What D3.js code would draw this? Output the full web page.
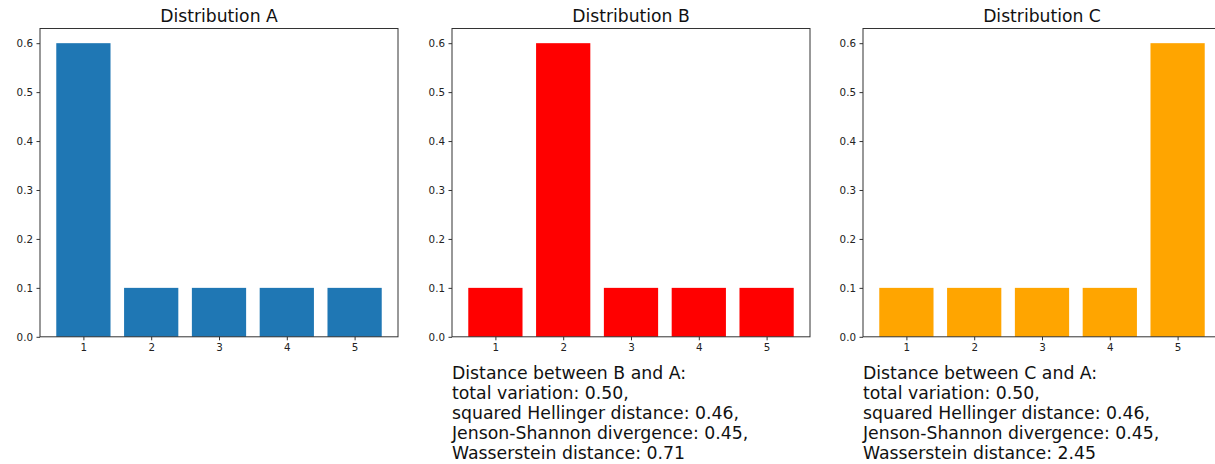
<!DOCTYPE html>
<html>
<head>
<meta charset="utf-8">
<script src="https://cdn.jsdelivr.net/npm/d3@7"></script>
<style>
  body { margin: 0; background: #fff; }
  svg { font-family: "DejaVu Sans", sans-serif; }
</style>
</head>
<body>
<svg id="chart" width="1215" height="464"></svg>
<script>
const categories = [1, 2, 3, 4, 5];
const distA = [0.6, 0.1, 0.1, 0.1, 0.1];
const distB = [0.1, 0.6, 0.1, 0.1, 0.1];
const distC = [0.1, 0.1, 0.1, 0.1, 0.6];
const yTicks = [0.0, 0.1, 0.2, 0.3, 0.4, 0.5, 0.6];
const panelTitles = ['Distribution A', 'Distribution B', 'Distribution C'];
const panelColors = ['#1f77b4', '#ff0000', '#ffa500'];
const notesB = ['Distance between B and A:', 'total variation: 0.50,', 'squared Hellinger distance: 0.46,', 'Jenson-Shannon divergence: 0.45,', 'Wasserstein distance: 0.71'];
const notesC = ['Distance between C and A:', 'total variation: 0.50,', 'squared Hellinger distance: 0.46,', 'Jenson-Shannon divergence: 0.45,', 'Wasserstein distance: 2.45'];

const panels = [
    { left: 40, values: distA, title: panelTitles[0], color: panelColors[0], notes: null },
    { left: 452, values: distB, title: panelTitles[1], color: panelColors[1], notes: notesB },
    { left: 863, values: distC, title: panelTitles[2], color: panelColors[2], notes: notesC },
];

const panelWidth = 358;
const panelTop = 28.5;
const panelHeight = 308.3;
const svg = d3.select('#chart');

panels.forEach(p => {
    const g = svg.append('g').attr('transform', `translate(${p.left}, ${panelTop})`);

    // bars are 0.8 wide, centred on 1..5, with matplotlib's 5% margin
    const x = d3.scaleLinear().domain([0.36, 5.64]).range([0, panelWidth]);
    const y = d3.scaleLinear().domain([0, 0.63]).range([panelHeight, 0]);

    g.selectAll('rect')
        .data(categories)
        .join('rect')
        .attr('x', (d) => x(d - 0.4))
        .attr('y', (d, i) => y(p.values[i]))
        .attr('width', x(0.8) - x(0))
        .attr('height', (d, i) => panelHeight - y(p.values[i]))
        .attr('fill', p.color);

    // frame
    g.append('rect')
        .attr('width', panelWidth)
        .attr('height', panelHeight)
        .attr('fill', 'none')
        .attr('stroke', '#333')
        .attr('stroke-width', 1);

    const xAxis = g.append('g')
        .attr('transform', `translate(0, ${panelHeight})`)
        .call(d3.axisBottom(x).tickValues(categories).tickSize(3.5).tickPadding(3.5).tickFormat(d3.format('d')));
    const yAxis = g.append('g')
        .call(d3.axisLeft(y).tickValues(yTicks).tickSize(3.5).tickPadding(3.5).tickFormat(d3.format('.1f')));

    [xAxis, yAxis].forEach(a => {
        a.select('.domain').remove();
        a.selectAll('line').attr('stroke', '#333');
        a.selectAll('text')
            .attr('fill', '#222')
            .style('font-family', '"DejaVu Sans", sans-serif')
            .style('font-size', '10.3px');
    });

    g.append('text')
        .attr('x', panelWidth / 2)
        .attr('y', -6.5)
        .attr('text-anchor', 'middle')
        .style('font-size', '17.2px')
        .attr('fill', '#111')
        .text(p.title);

    if (p.notes) {
        g.append('g')
            .selectAll('text')
            .data(p.notes)
            .join('text')
            .attr('x', 0)
            .attr('y', (d, i) => panelHeight + 42.5 + i * 20)
            .style('font-size', '17.3px')
            .attr('fill', '#111')
            .text(d => d);
    }
});
</script>
</body>
</html>
